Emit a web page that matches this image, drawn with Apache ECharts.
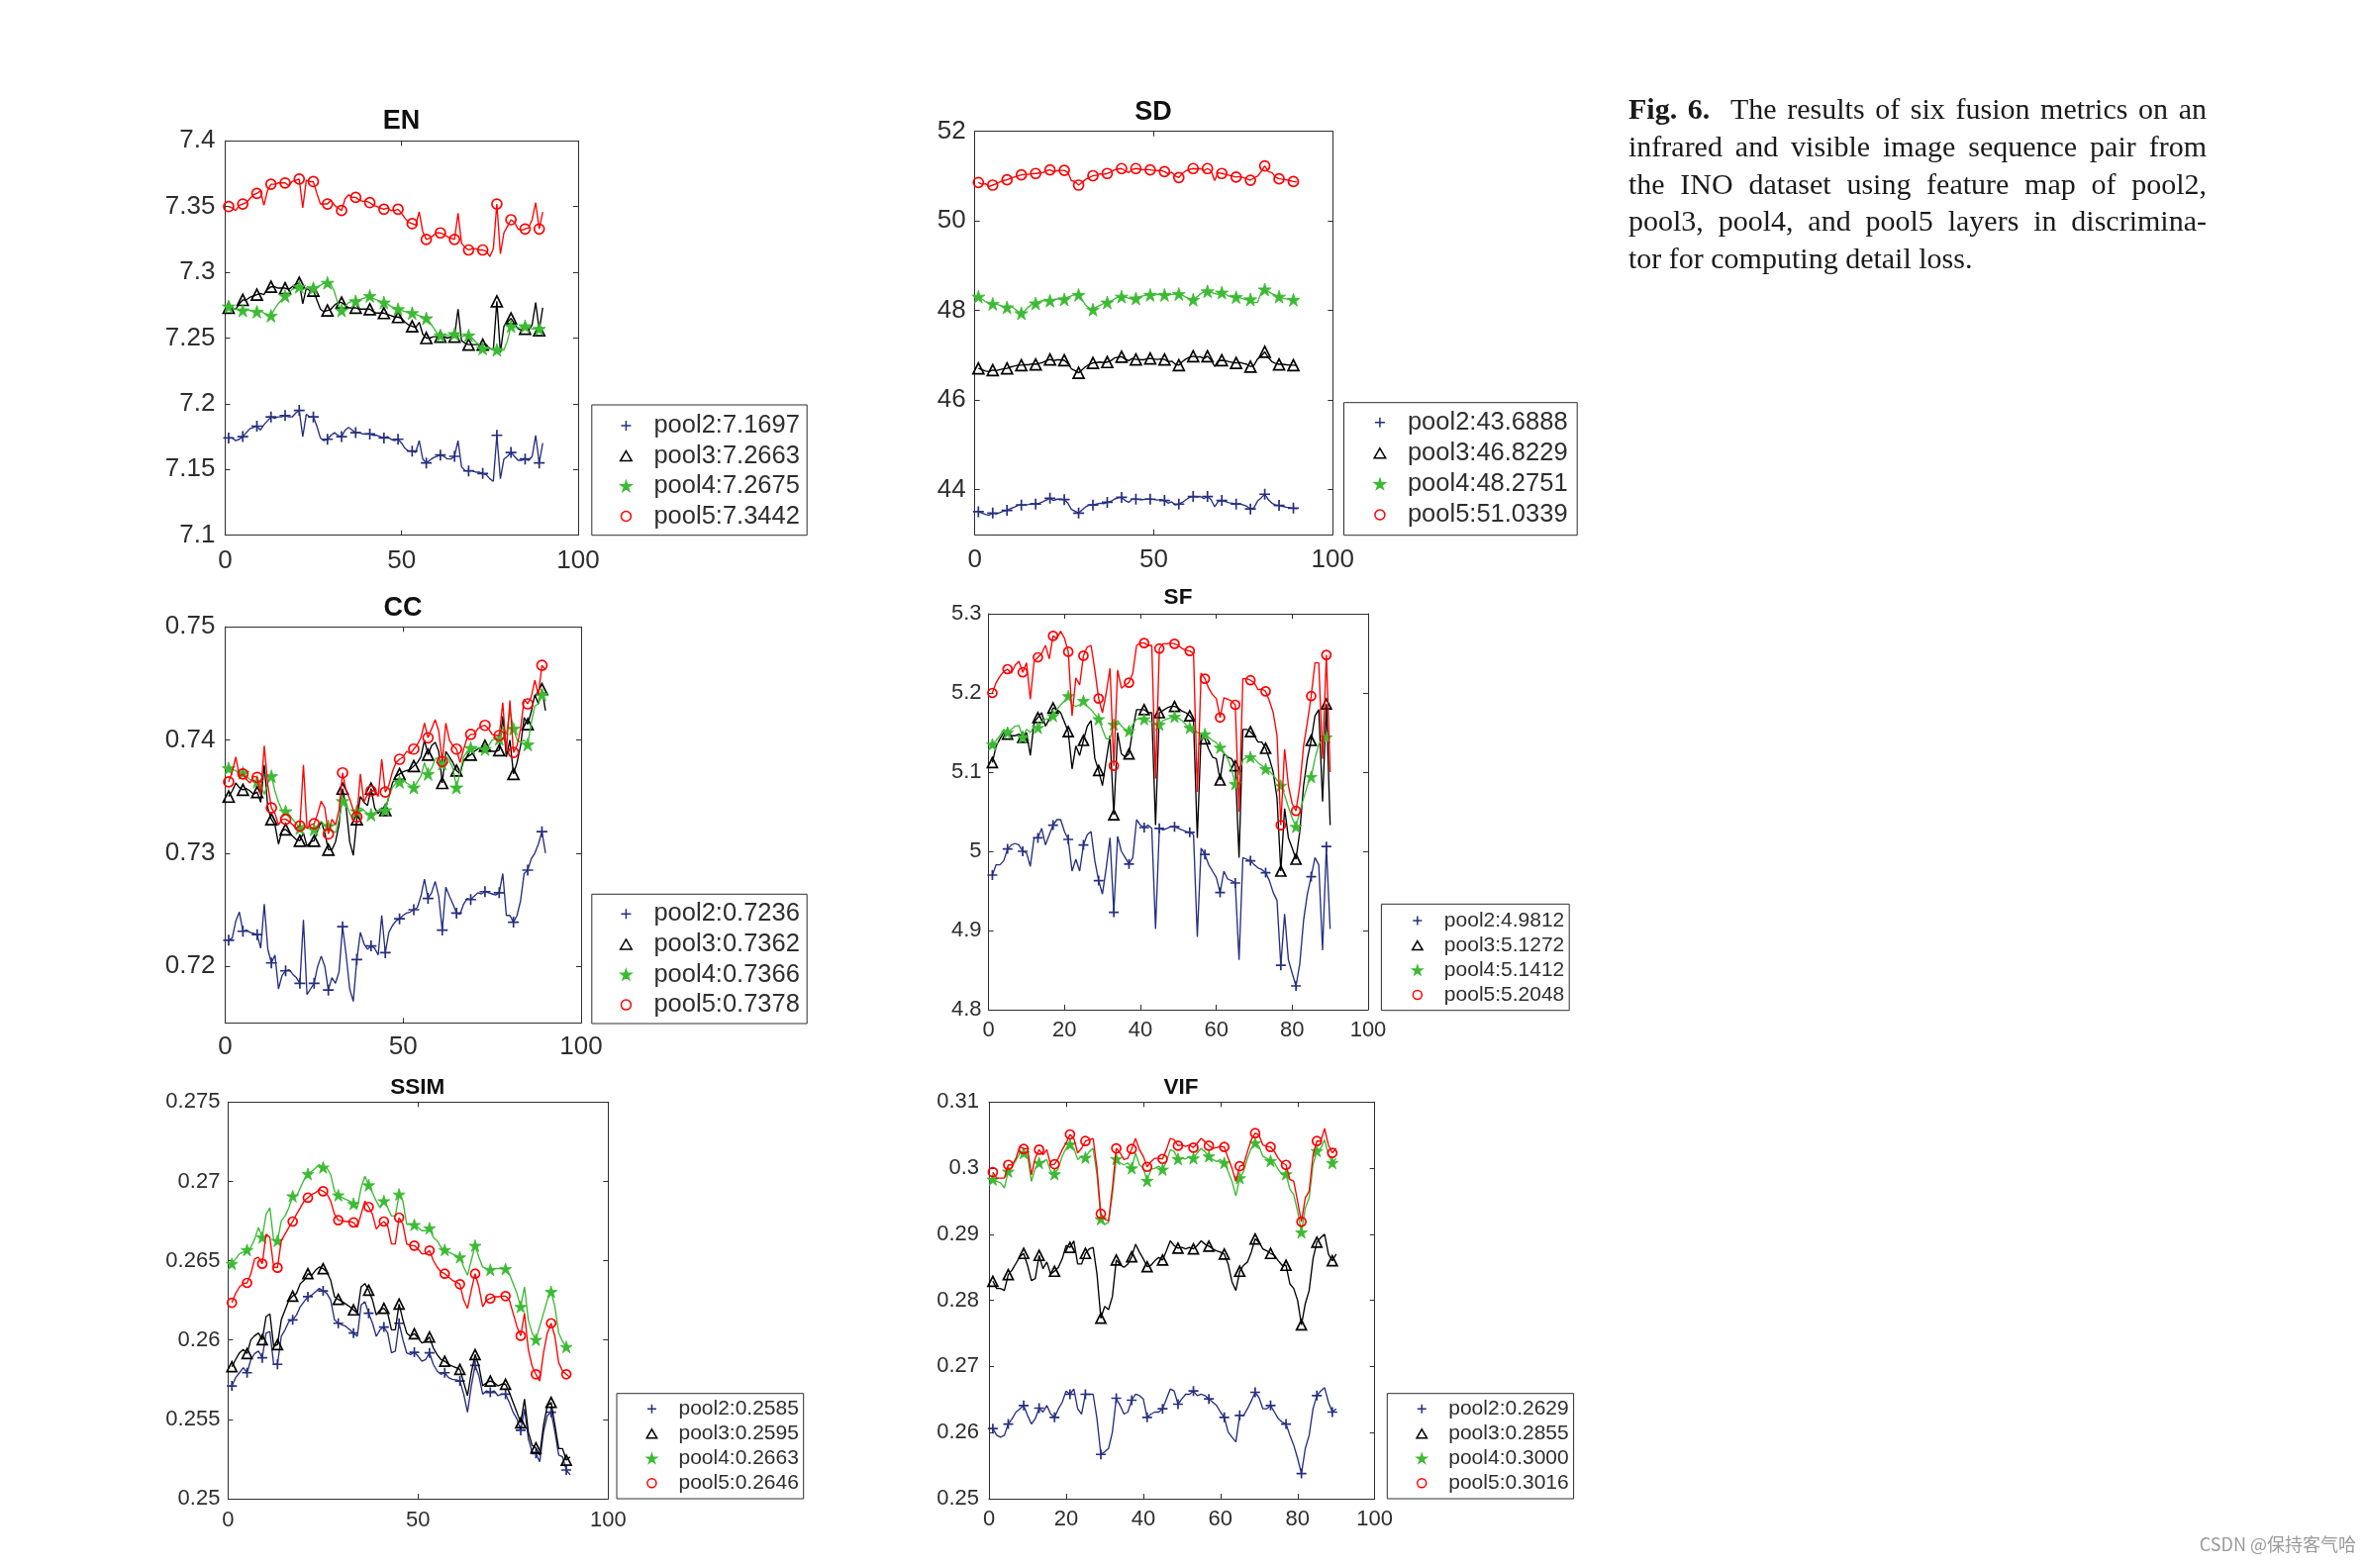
<!DOCTYPE html>
<html><head><meta charset="utf-8">
<script src="https://cdn.jsdelivr.net/npm/echarts@6/dist/echarts.min.js"></script>
<style>
html,body{margin:0;padding:0;background:#fff;}
#chart{position:absolute;left:0;top:0;width:2388px;height:1584px;}
#caption{position:absolute;left:1645px;top:91px;width:584px;font-family:'Liberation Serif','Times New Roman',serif;font-size:30px;line-height:37.8px;color:#1a1a1a;}
#caption .j{text-align:justify;text-align-last:justify;}
</style></head>
<body>
<div id="chart"></div>
<div id="caption">
<div class="j"><b>Fig. 6.</b>&nbsp; The results of six fusion metrics on an</div>
<div class="j">infrared and visible image sequence pair from</div>
<div class="j">the INO dataset using feature map of pool2,</div>
<div class="j">pool3, pool4, and pool5 layers in discrimina-</div>
<div>tor for computing detail loss.</div>
</div>
<script>
// ---------- data ----------
const frames = []; for (let i = 1; i <= 90; i++) frames.push(i);

const EN_legend = ['pool2:7.1697','pool3:7.2663','pool4:7.2675','pool5:7.3442'];
const SD_legend = ['pool2:43.6888','pool3:46.8229','pool4:48.2751','pool5:51.0339'];
const CC_legend = ['pool2:0.7236','pool3:0.7362','pool4:0.7366','pool5:0.7378'];
const SF_legend = ['pool2:4.9812','pool3:5.1272','pool4:5.1412','pool5:5.2048'];
const SSIM_legend = ['pool2:0.2585','pool3:0.2595','pool4:0.2663','pool5:0.2646'];
const VIF_legend = ['pool2:0.2629','pool3:0.2855','pool4:0.3000','pool5:0.3016'];

const X_ticks_50 = [0,50,100];
const X_ticks_20 = [0,20,40,60,80,100];
const EN_yticks = [7.1,7.15,7.2,7.25,7.3,7.35,7.4];
const SD_yticks = [44,46,48,50,52];
const CC_yticks = [0.72,0.73,0.74,0.75];
const SF_yticks = [4.8,4.9,5,5.1,5.2,5.3];
const SSIM_yticks = [0.25,0.255,0.26,0.265,0.27,0.275];
const VIF_yticks = [0.25,0.26,0.27,0.28,0.29,0.3,0.31];

const EN_pool2 = [7.174,7.174,7.172,7.173,7.175,7.178,7.181,7.182,7.183,7.180,
7.184,7.187,7.190,7.189,7.190,7.190,7.191,7.190,7.190,7.193,
7.195,7.175,7.192,7.190,7.190,7.183,7.174,7.172,7.173,7.176,
7.178,7.176,7.175,7.180,7.182,7.180,7.178,7.178,7.177,7.177,
7.177,7.176,7.176,7.175,7.174,7.175,7.173,7.172,7.173,7.170,
7.166,7.164,7.164,7.163,7.172,7.158,7.155,7.157,7.159,7.160,
7.161,7.160,7.158,7.158,7.160,7.172,7.152,7.149,7.149,7.149,
7.148,7.148,7.147,7.146,7.143,7.141,7.176,7.143,7.158,7.160,
7.163,7.160,7.157,7.157,7.158,7.157,7.160,7.176,7.155,7.170];
const EN_pool3 = [7.273,7.273,7.272,7.276,7.279,7.279,7.281,7.282,7.283,7.284,
7.283,7.287,7.289,7.289,7.288,7.288,7.288,7.287,7.289,7.291,
7.292,7.276,7.288,7.286,7.286,7.279,7.272,7.270,7.271,7.272,
7.275,7.277,7.277,7.275,7.273,7.273,7.273,7.272,7.272,7.272,
7.272,7.270,7.269,7.269,7.269,7.268,7.267,7.266,7.266,7.265,
7.262,7.260,7.259,7.258,7.262,7.253,7.250,7.250,7.251,7.251,
7.251,7.251,7.250,7.251,7.251,7.272,7.248,7.246,7.245,7.245,
7.245,7.245,7.245,7.245,7.242,7.241,7.278,7.239,7.259,7.262,
7.265,7.261,7.257,7.256,7.257,7.256,7.260,7.277,7.256,7.273];
const EN_pool4 = [7.274,7.273,7.272,7.271,7.271,7.272,7.271,7.270,7.270,7.271,
7.269,7.268,7.267,7.272,7.276,7.279,7.282,7.284,7.287,7.288,
7.289,7.287,7.288,7.288,7.288,7.289,7.290,7.292,7.292,7.291,
7.285,7.276,7.271,7.274,7.277,7.278,7.278,7.279,7.280,7.281,
7.282,7.280,7.279,7.278,7.277,7.276,7.274,7.273,7.272,7.271,
7.270,7.270,7.269,7.268,7.267,7.266,7.265,7.262,7.258,7.254,
7.252,7.252,7.252,7.253,7.253,7.252,7.251,7.252,7.252,7.250,
7.247,7.245,7.242,7.242,7.242,7.241,7.241,7.240,7.241,7.248,
7.259,7.258,7.258,7.258,7.259,7.258,7.257,7.257,7.257,7.256];
const EN_pool5 = [7.350,7.349,7.347,7.351,7.352,7.353,7.356,7.359,7.360,7.362,
7.351,7.362,7.367,7.367,7.368,7.368,7.368,7.366,7.369,7.370,
7.371,7.349,7.370,7.369,7.369,7.360,7.352,7.352,7.352,7.355,
7.351,7.349,7.347,7.356,7.359,7.357,7.357,7.355,7.354,7.354,
7.353,7.351,7.350,7.349,7.348,7.349,7.347,7.347,7.348,7.345,
7.341,7.338,7.337,7.336,7.346,7.331,7.325,7.326,7.328,7.330,
7.330,7.329,7.327,7.326,7.325,7.345,7.322,7.319,7.317,7.318,
7.318,7.317,7.317,7.316,7.312,7.318,7.352,7.314,7.330,7.335,
7.340,7.338,7.333,7.332,7.333,7.334,7.340,7.353,7.333,7.346];

const SD_pool2 = [43.51,43.48,43.45,43.43,43.48,43.46,43.49,43.52,43.54,43.58,
43.61,43.65,43.66,43.66,43.67,43.69,43.68,43.70,43.73,43.77,
43.81,43.76,43.79,43.79,43.78,43.70,43.56,43.52,43.48,43.55,
43.62,43.66,43.66,43.68,43.70,43.69,43.72,43.74,43.79,43.82,
43.83,43.76,43.72,43.79,43.79,43.78,43.78,43.79,43.79,43.78,
43.77,43.78,43.76,43.70,43.73,43.66,43.68,43.72,43.78,43.83,
43.85,43.84,43.85,43.80,43.85,43.78,43.62,43.74,43.76,43.74,
43.71,43.70,43.68,43.69,43.66,43.63,43.57,43.60,43.75,43.82,
43.90,43.78,43.70,43.66,43.65,43.63,43.61,43.60,43.59,43.58];
const SD_pool3 = [46.71,46.68,46.65,46.64,46.67,46.66,46.68,46.70,46.71,46.74,
46.76,46.78,46.78,46.79,46.79,46.81,46.80,46.82,46.84,46.88,
46.91,46.88,46.90,46.90,46.89,46.82,46.70,46.66,46.61,46.68,
46.75,46.80,46.83,46.84,46.85,46.84,46.85,46.88,46.94,46.96,
46.97,46.92,46.88,46.93,46.91,46.91,46.90,46.92,46.93,46.92,
46.91,46.92,46.91,46.86,46.87,46.80,46.78,46.86,46.92,46.96,
46.98,46.96,46.97,46.93,46.98,46.90,46.75,46.88,46.89,46.88,
46.86,46.84,46.83,46.84,46.82,46.80,46.75,46.78,46.92,46.98,
47.08,46.95,46.86,46.82,46.80,46.80,46.79,46.78,46.78,46.77];
const SD_pool4 = [48.31,48.26,48.20,48.17,48.15,48.14,48.12,48.08,48.07,48.10,
48.05,47.98,47.94,48.00,48.08,48.14,48.16,48.20,48.22,48.22,
48.22,48.24,48.26,48.25,48.25,48.30,48.33,48.36,48.35,48.24,
48.12,48.05,48.02,48.08,48.12,48.16,48.18,48.21,48.26,48.30,
48.31,48.30,48.28,48.25,48.27,48.31,48.33,48.35,48.35,48.34,
48.36,48.35,48.35,48.34,48.36,48.37,48.37,48.34,48.30,48.26,
48.24,48.30,48.37,48.42,48.43,48.41,48.38,48.36,48.40,48.37,
48.32,48.30,48.30,48.29,48.26,48.24,48.25,48.18,48.18,48.40,
48.47,48.42,48.38,48.34,48.31,48.28,48.26,48.25,48.24,48.25];
const SD_pool5 = [50.86,50.82,50.83,50.77,50.80,50.83,50.87,50.90,50.92,50.95,
50.98,51.00,51.03,51.04,51.04,51.05,51.06,51.07,51.08,51.12,
51.14,51.10,51.12,51.13,51.13,51.08,50.90,50.88,50.80,50.86,
50.93,50.97,51.01,51.02,51.05,51.04,51.06,51.09,51.14,51.16,
51.17,51.12,51.08,51.15,51.17,51.16,51.14,51.15,51.14,51.13,
51.12,51.13,51.10,51.05,51.09,51.00,50.97,51.06,51.12,51.15,
51.17,51.16,51.17,51.12,51.17,51.12,50.90,51.08,51.06,51.04,
51.02,51.00,50.98,50.99,50.97,50.94,50.91,50.96,51.00,51.10,
51.23,51.10,51.08,50.98,50.94,50.93,50.92,50.90,50.88,50.87];

const CC_pool2 = [0.7223,0.7225,0.7240,0.7248,0.7231,0.7232,0.7230,0.7229,0.7228,0.7216,
0.7255,0.7215,0.7203,0.7210,0.7180,0.7192,0.7196,0.7197,0.7193,0.7190,
0.7185,0.7241,0.7175,0.7180,0.7185,0.7200,0.7209,0.7200,0.7179,0.7190,
0.7185,0.7195,0.7235,0.7210,0.7180,0.7169,0.7206,0.7230,0.7220,0.7215,
0.7218,0.7216,0.7210,0.7245,0.7212,0.7230,0.7236,0.7240,0.7242,0.7245,
0.7247,0.7248,0.7250,0.7252,0.7262,0.7277,0.7260,0.7265,0.7275,0.7262,
0.7232,0.7270,0.7262,0.7255,0.7247,0.7246,0.7255,0.7260,0.7259,0.7262,
0.7265,0.7264,0.7266,0.7265,0.7264,0.7263,0.7265,0.7282,0.7245,0.7245,
0.7239,0.7245,0.7258,0.7282,0.7285,0.7295,0.7300,0.7308,0.7319,0.7300];
const CC_pool3 = [0.7350,0.7355,0.7362,0.7358,0.7356,0.7357,0.7355,0.7352,0.7354,0.7345,
0.7378,0.7340,0.7330,0.7325,0.7308,0.7320,0.7321,0.7318,0.7315,0.7312,
0.7311,0.7318,0.7306,0.7310,0.7311,0.7320,0.7328,0.7318,0.7303,0.7303,
0.7310,0.7325,0.7357,0.7340,0.7310,0.7298,0.7330,0.7350,0.7345,0.7342,
0.7357,0.7340,0.7335,0.7340,0.7338,0.7350,0.7362,0.7368,0.7370,0.7372,
0.7373,0.7374,0.7377,0.7380,0.7385,0.7400,0.7387,0.7395,0.7398,0.7390,
0.7362,0.7390,0.7385,0.7380,0.7373,0.7370,0.7382,0.7385,0.7387,0.7390,
0.7392,0.7393,0.7395,0.7392,0.7390,0.7390,0.7391,0.7421,0.7385,0.7400,
0.7370,0.7380,0.7395,0.7420,0.7414,0.7425,0.7440,0.7432,0.7445,0.7426];
const CC_pool4 = [0.7375,0.7374,0.7373,0.7370,0.7371,0.7368,0.7365,0.7364,0.7363,0.7360,
0.7352,0.7362,0.7368,0.7355,0.7345,0.7338,0.7337,0.7334,0.7330,0.7326,
0.7322,0.7325,0.7322,0.7322,0.7321,0.7325,0.7328,0.7325,0.7324,0.7320,
0.7318,0.7330,0.7346,0.7345,0.7335,0.7330,0.7337,0.7340,0.7338,0.7335,
0.7334,0.7336,0.7338,0.7337,0.7338,0.7350,0.7358,0.7362,0.7363,0.7365,
0.7362,0.7360,0.7358,0.7363,0.7368,0.7380,0.7370,0.7375,0.7383,0.7385,
0.7379,0.7386,0.7382,0.7375,0.7358,0.7372,0.7385,0.7390,0.7393,0.7392,
0.7393,0.7392,0.7392,0.7395,0.7400,0.7401,0.7401,0.7412,0.7405,0.7426,
0.7410,0.7400,0.7398,0.7400,0.7396,0.7415,0.7430,0.7432,0.7440,0.7443];
const CC_pool5 = [0.7363,0.7372,0.7385,0.7368,0.7370,0.7365,0.7362,0.7368,0.7367,0.7352,
0.7395,0.7360,0.7340,0.7335,0.7325,0.7330,0.7330,0.7328,0.7325,0.7322,
0.7324,0.7378,0.7322,0.7325,0.7326,0.7335,0.7346,0.7340,0.7317,0.7330,
0.7325,0.7338,0.7371,0.7355,0.7348,0.7338,0.7332,0.7370,0.7345,0.7352,
0.7355,0.7355,0.7350,0.7383,0.7354,0.7360,0.7372,0.7380,0.7383,0.7385,
0.7390,0.7388,0.7392,0.7396,0.7402,0.7415,0.7402,0.7410,0.7418,0.7408,
0.7381,0.7415,0.7400,0.7395,0.7392,0.7380,0.7392,0.7402,0.7405,0.7405,
0.7410,0.7412,0.7413,0.7410,0.7405,0.7404,0.7404,0.7433,0.7390,0.7435,
0.7389,0.7395,0.7410,0.7436,0.7432,0.7438,0.7453,0.7440,0.7466,0.7462];

const SF_pool2 = [4.970,4.983,4.983,4.988,5.003,5.008,5.010,5.008,5.000,4.998,
4.981,5.017,5.017,5.029,5.008,5.021,5.033,5.040,5.040,5.025,
5.015,4.975,4.990,4.975,5.008,5.021,5.025,4.988,4.963,4.946,
4.979,5.017,4.923,5.019,5.000,4.992,4.984,4.992,5.040,5.033,
5.030,5.033,5.029,4.902,5.029,5.027,5.029,5.031,5.031,5.029,
5.027,5.025,5.024,5.021,4.892,5.004,4.996,4.983,4.975,4.967,
4.948,4.975,4.965,4.963,4.960,4.863,4.992,4.990,4.988,4.983,
4.979,4.977,4.973,4.963,4.948,4.938,4.856,4.921,4.863,4.846,
4.830,4.858,4.913,4.946,4.968,4.992,4.983,4.875,5.006,4.902];
const SF_pool3 = [5.112,5.133,5.142,5.150,5.148,5.146,5.146,5.148,5.144,5.150,
5.121,5.163,5.169,5.175,5.158,5.167,5.181,5.179,5.175,5.163,
5.151,5.104,5.133,5.121,5.140,5.158,5.165,5.117,5.102,5.083,
5.115,5.146,5.046,5.150,5.123,5.119,5.123,5.154,5.179,5.179,
5.179,5.175,5.175,5.033,5.175,5.178,5.181,5.183,5.183,5.181,
5.177,5.175,5.171,5.165,5.017,5.148,5.142,5.129,5.119,5.117,
5.090,5.123,5.119,5.117,5.108,4.992,5.154,5.154,5.151,5.146,
5.138,5.138,5.130,5.117,5.100,5.067,4.975,5.054,5.017,5.004,
4.990,5.025,5.083,5.117,5.140,5.171,5.179,5.063,5.186,5.033];
const SF_pool4 = [5.135,5.140,5.146,5.154,5.150,5.154,5.158,5.159,5.144,5.154,
5.150,5.158,5.156,5.163,5.167,5.167,5.171,5.179,5.185,5.190,
5.196,5.185,5.183,5.185,5.190,5.183,5.179,5.173,5.167,5.154,
5.142,5.142,5.160,5.165,5.158,5.154,5.152,5.160,5.167,5.167,
5.167,5.165,5.163,5.160,5.160,5.165,5.167,5.169,5.170,5.168,
5.165,5.160,5.156,5.154,5.150,5.149,5.148,5.144,5.140,5.137,
5.131,5.125,5.117,5.104,5.085,5.100,5.115,5.119,5.119,5.117,
5.112,5.108,5.104,5.101,5.096,5.090,5.083,5.071,5.056,5.042,
5.031,5.050,5.067,5.083,5.094,5.117,5.135,5.142,5.144,5.142];
const SF_pool5 = [5.200,5.213,5.221,5.227,5.230,5.225,5.235,5.240,5.226,5.238,
5.192,5.240,5.245,5.250,5.260,5.243,5.272,5.269,5.278,5.269,
5.252,5.171,5.219,5.210,5.247,5.258,5.260,5.229,5.193,5.175,
5.200,5.231,5.108,5.229,5.206,5.210,5.213,5.225,5.260,5.263,
5.263,5.260,5.260,5.092,5.256,5.262,5.262,5.263,5.262,5.260,
5.256,5.254,5.253,5.250,5.075,5.225,5.218,5.206,5.198,5.193,
5.169,5.194,5.192,5.190,5.185,5.050,5.218,5.218,5.216,5.213,
5.204,5.205,5.202,5.190,5.175,5.146,5.033,5.129,5.083,5.060,
5.051,5.083,5.133,5.163,5.196,5.238,5.238,5.117,5.248,5.100];

const SSIM_pool2 = [0.25711,0.25763,0.25794,0.25826,0.25794,0.25878,0.25915,0.25930,0.25888,0.26044,
0.26054,0.25847,0.25847,0.26023,0.26065,0.26117,0.26127,0.26158,0.26210,0.26242,
0.26273,0.26283,0.26304,0.26325,0.26310,0.26294,0.26252,0.26127,0.26106,0.26096,
0.26086,0.26065,0.26044,0.26023,0.26221,0.26242,0.26169,0.26106,0.26023,0.26065,
0.26082,0.26044,0.25919,0.25930,0.26106,0.26002,0.25919,0.25909,0.25923,0.25898,
0.25867,0.25878,0.25919,0.25847,0.25805,0.25784,0.25794,0.25763,0.25753,0.25749,
0.25742,0.25659,0.25545,0.25711,0.25840,0.25774,0.25659,0.25680,0.25670,0.25680,
0.25649,0.25659,0.25659,0.25607,0.25545,0.25503,0.25431,0.25566,0.25379,0.25295,
0.25285,0.25233,0.25420,0.25524,0.25545,0.25420,0.25275,0.25264,0.25181,0.25150];
const SSIM_pool3 = [0.25832,0.25878,0.25919,0.25940,0.25915,0.26002,0.26027,0.26044,0.26002,0.26148,
0.26165,0.25961,0.25971,0.26127,0.26190,0.26252,0.26277,0.26294,0.26356,0.26377,
0.26418,0.26408,0.26439,0.26460,0.26450,0.26429,0.26377,0.26273,0.26256,0.26242,
0.26227,0.26210,0.26190,0.26169,0.26335,0.26356,0.26314,0.26252,0.26158,0.26190,
0.26200,0.26169,0.26065,0.26065,0.26227,0.26127,0.26044,0.26023,0.26040,0.26013,
0.25982,0.25992,0.26019,0.25950,0.25909,0.25878,0.25867,0.25847,0.25836,0.25826,
0.25815,0.25732,0.25649,0.25794,0.25909,0.25836,0.25711,0.25732,0.25742,0.25732,
0.25711,0.25722,0.25722,0.25670,0.25607,0.25545,0.25478,0.25628,0.25420,0.25337,
0.25320,0.25275,0.25462,0.25587,0.25607,0.25462,0.25316,0.25316,0.25243,0.25264];
const SSIM_pool4 = [0.26481,0.26512,0.26543,0.26554,0.26568,0.26585,0.26637,0.26710,0.26647,0.26793,
0.26834,0.26626,0.26626,0.26751,0.26782,0.26834,0.26907,0.26907,0.26959,0.27011,
0.27047,0.27063,0.27084,0.27105,0.27088,0.27084,0.27042,0.26938,0.26913,0.26897,
0.26886,0.26876,0.26859,0.26834,0.26959,0.27032,0.26976,0.26928,0.26876,0.26834,
0.26876,0.26834,0.26782,0.26782,0.26918,0.26876,0.26730,0.26730,0.26726,0.26710,
0.26689,0.26689,0.26705,0.26647,0.26626,0.26585,0.26568,0.26554,0.26543,0.26533,
0.26522,0.26460,0.26408,0.26502,0.26595,0.26522,0.26460,0.26450,0.26443,0.26450,
0.26450,0.26450,0.26448,0.26418,0.26356,0.26294,0.26210,0.26335,0.26127,0.26044,
0.26002,0.26086,0.26169,0.26252,0.26304,0.26210,0.26044,0.25992,0.25957,0.25919];
const SSIM_pool5 = [0.26235,0.26294,0.26335,0.26356,0.26360,0.26418,0.26512,0.26522,0.26481,0.26668,
0.26647,0.26460,0.26456,0.26626,0.26668,0.26710,0.26747,0.26793,0.26834,0.26876,
0.26897,0.26918,0.26928,0.26949,0.26938,0.26922,0.26876,0.26793,0.26755,0.26751,
0.26747,0.26747,0.26741,0.26710,0.26793,0.26876,0.26839,0.26793,0.26699,0.26730,
0.26747,0.26720,0.26606,0.26606,0.26772,0.26730,0.26606,0.26595,0.26595,0.26574,
0.26543,0.26543,0.26564,0.26502,0.26460,0.26429,0.26418,0.26398,0.26377,0.26366,
0.26352,0.26252,0.26200,0.26314,0.26418,0.26335,0.26210,0.26252,0.26262,0.26273,
0.26273,0.26277,0.26277,0.26252,0.26169,0.26086,0.26027,0.26169,0.25940,0.25836,
0.25784,0.25742,0.25919,0.26044,0.26106,0.26023,0.25857,0.25805,0.25784,0.25763];

const VIF_pool2 = [0.2606,0.2596,0.2593,0.2596,0.2613,0.2621,0.2631,0.2636,0.2641,0.2626,
0.2613,0.2621,0.2637,0.2631,0.2641,0.2628,0.2623,0.2636,0.2646,0.2663,
0.2658,0.2666,0.2636,0.2628,0.2658,0.2658,0.2658,0.2621,0.2567,0.2571,
0.2576,0.2601,0.2652,0.2641,0.2628,0.2631,0.2649,0.2658,0.2656,0.2651,
0.2623,0.2628,0.2631,0.2631,0.2636,0.2651,0.2666,0.2663,0.2643,0.2651,
0.2658,0.2658,0.2663,0.2656,0.2658,0.2656,0.2651,0.2646,0.2641,0.2631,
0.2623,0.2601,0.2593,0.2586,0.2626,0.2626,0.2636,0.2648,0.2661,0.2653,
0.2636,0.2636,0.2641,0.2631,0.2621,0.2616,0.2613,0.2596,0.2581,0.2561,
0.2538,0.2576,0.2596,0.2636,0.2656,0.2663,0.2668,0.2646,0.2631,0.2636];
const VIF_pool3 = [0.2829,0.2818,0.2818,0.2815,0.2839,0.2846,0.2856,0.2866,0.2871,0.2853,
0.2830,0.2833,0.2868,0.2848,0.2858,0.2840,0.2844,0.2850,0.2863,0.2883,
0.2880,0.2890,0.2855,0.2855,0.2871,0.2878,0.2880,0.2840,0.2773,0.2791,
0.2786,0.2806,0.2861,0.2854,0.2850,0.2855,0.2866,0.2885,0.2873,0.2863,
0.2851,0.2853,0.2860,0.2865,0.2861,0.2875,0.2890,0.2883,0.2879,0.2880,
0.2878,0.2880,0.2878,0.2883,0.2890,0.2885,0.2882,0.2878,0.2875,0.2873,
0.2870,0.2855,0.2828,0.2815,0.2844,0.2853,0.2858,0.2873,0.2893,0.2888,
0.2878,0.2875,0.2871,0.2868,0.2860,0.2853,0.2853,0.2825,0.2818,0.2800,
0.2763,0.2795,0.2815,0.2863,0.2888,0.2895,0.2900,0.2870,0.2860,0.2870];
const VIF_pool4 = [0.2983,0.2980,0.2978,0.2970,0.2995,0.3002,0.3012,0.3023,0.3023,0.3019,
0.2980,0.3000,0.3008,0.3010,0.3013,0.2995,0.2991,0.3000,0.3018,0.3030,
0.3036,0.3030,0.3013,0.3018,0.3016,0.3025,0.3030,0.2990,0.2923,0.2915,
0.2918,0.2960,0.3014,0.3008,0.3005,0.3008,0.3000,0.3023,0.3005,0.3000,
0.2981,0.2998,0.3000,0.3003,0.2998,0.3010,0.3028,0.3025,0.3014,0.3015,
0.3014,0.3018,0.3015,0.3023,0.3030,0.3025,0.3018,0.3013,0.3010,0.3013,
0.3008,0.2995,0.2980,0.2958,0.2985,0.2995,0.3015,0.3030,0.3038,0.3033,
0.3018,0.3015,0.3011,0.3008,0.2998,0.2990,0.2991,0.2968,0.2960,0.2935,
0.2903,0.2940,0.2955,0.3005,0.3026,0.3030,0.3043,0.3020,0.3008,0.3015];
const VIF_pool5 = [0.2994,0.2985,0.2985,0.2985,0.3005,0.3005,0.3015,0.3033,0.3029,0.3030,
0.2990,0.3015,0.3028,0.3020,0.3028,0.3005,0.3006,0.3015,0.3028,0.3038,
0.3051,0.3045,0.3023,0.3030,0.3041,0.3043,0.3045,0.3000,0.2931,0.2923,
0.2920,0.2970,0.3030,0.3023,0.3013,0.3015,0.3029,0.3045,0.3028,0.3018,
0.3002,0.3010,0.3015,0.3015,0.3014,0.3028,0.3045,0.3043,0.3034,0.3035,
0.3033,0.3035,0.3031,0.3038,0.3045,0.3040,0.3034,0.3030,0.3031,0.3033,
0.3032,0.3015,0.3000,0.2980,0.3003,0.3005,0.3025,0.3043,0.3053,0.3050,
0.3035,0.3033,0.3032,0.3025,0.3015,0.3008,0.3005,0.2983,0.2980,0.2950,
0.2919,0.2955,0.2965,0.3020,0.3041,0.3041,0.3060,0.3035,0.3023,0.3030];

// ---------- styles / layout ----------
const FONT = "'Liberation Sans', Arial, Helvetica, sans-serif";
const AX = '#2e2e2e';
const COLORS = ['#262f80', '#000000', '#3cba34', '#ff0000'];
const SYMBOLS = [
  'path://M5,0L5,10M0,5L10,5',
  'path://M5,0L10,8.66L0,8.66Z',
  'path://M50,0L61.2,34.5L97.6,34.5L68.2,55.9L79.4,90.5L50,69.1L20.6,90.5L31.8,55.9L2.4,34.5L38.8,34.5Z',
  'circle'
];
const FILLS = ['transparent', 'transparent', '#3cba34', 'transparent'];
const SIZE_ADD = [1, 1, 3, 0];

const panels = [
  {title:'EN', series:[EN_pool2,EN_pool3,EN_pool4,EN_pool5], names:EN_legend, yMin:7.1, yMax:7.4, yTicks:EN_yticks, xTicks:X_ticks_50,
   grid:[227.4,142.3,356.5,398.4], titleXY:[405.6,122.7], titleSize:27, tick:26, xMargin:13, yMargin:10,
   box:[597.8,409,217.4,131.7], icon:631.7, row0:430, step:30.5, lsize:25.5, lw:46, sym:10},
  {title:'SD', series:[SD_pool2,SD_pool3,SD_pool4,SD_pool5], names:SD_legend, yMin:43, yMax:52, yTicks:SD_yticks, xTicks:X_ticks_50,
   grid:[984.7,132.7,361.6,407.3], titleXY:[1165,113.3], titleSize:27, tick:26, xMargin:13, yMargin:9,
   box:[1357.5,406.7,235.7,134], icon:1393.2, row0:426.7, step:31.1, lsize:25.5, lw:46, sym:10},
  {title:'CC', series:[CC_pool2,CC_pool3,CC_pool4,CC_pool5], names:CC_legend, yMin:0.715, yMax:0.75, yTicks:CC_yticks, xTicks:X_ticks_50,
   grid:[227.4,633.3,359.6,400], titleXY:[407,615], titleSize:27, tick:26, xMargin:12, yMargin:10,
   box:[597.8,903.3,217.4,130.7], icon:631.7, row0:923.3, step:30.6, lsize:25.5, lw:46, sym:10},
  {title:'SF', series:[SF_pool2,SF_pool3,SF_pool4,SF_pool5], names:SF_legend, yMin:4.8, yMax:5.3, yTicks:SF_yticks, xTicks:X_ticks_20,
   grid:[998.6,620,383.4,400], titleXY:[1190,603.3], titleSize:22.5, tick:22, xMargin:10, yMargin:7,
   box:[1395.4,913.3,189.8,107.4], icon:1431.2, row0:930, step:25, lsize:21, lw:44, sym:9},
  {title:'SSIM', series:[SSIM_pool2,SSIM_pool3,SSIM_pool4,SSIM_pool5], names:SSIM_legend, yMin:0.25, yMax:0.275, yTicks:SSIM_yticks, xTicks:X_ticks_50,
   grid:[230.4,1113.3,383.9,400.7], titleXY:[421.7,1098.3], titleSize:22.5, tick:22, xMargin:11, yMargin:8,
   box:[623,1407.7,188.7,106.3], icon:657.8, row0:1423.3, step:25, lsize:21, lw:44, sym:9},
  {title:'VIF', series:[VIF_pool2,VIF_pool3,VIF_pool4,VIF_pool5], names:VIF_legend, yMin:0.25, yMax:0.31, yTicks:VIF_yticks, xTicks:X_ticks_20,
   grid:[999,1113.3,389.7,400.7], titleXY:[1193,1098.3], titleSize:22.5, tick:22, xMargin:10, yMargin:10,
   box:[1401.3,1407.7,188.3,106.3], icon:1435.6, row0:1423.3, step:25, lsize:21, lw:44, sym:9}
];

const fmt = v => String(parseFloat(Number(v).toFixed(4)));

const grids = [], xAxes = [], yAxes = [], series = [], legends = [], graphics = [];

panels.forEach((p, k) => {
  grids.push({left:p.grid[0], top:p.grid[1], width:p.grid[2], height:p.grid[3], containLabel:false});
  const mkTick = vals => ({show:true, inside:true, length:5, customValues:vals, lineStyle:{color:AX, width:1}});
  const mkLine = () => ({show:true, onZero:false, lineStyle:{color:AX, width:1}});
  ['bottom','top'].forEach(pos => {
    xAxes.push({gridIndex:k, type:'value', position:pos, min:0, max:100,
      axisLine:mkLine(), axisTick:mkTick(p.xTicks), splitLine:{show:false},
      axisLabel: pos === 'bottom'
        ? {show:true, customValues:p.xTicks, margin:p.xMargin, fontSize:p.tick, color:AX, fontFamily:FONT, formatter:fmt}
        : {show:false}});
  });
  ['left','right'].forEach(pos => {
    yAxes.push({gridIndex:k, type:'value', position:pos, min:p.yMin, max:p.yMax,
      axisLine:mkLine(), axisTick:mkTick(p.yTicks), splitLine:{show:false},
      axisLabel: pos === 'left'
        ? {show:true, customValues:p.yTicks, margin:p.yMargin, fontSize:p.tick, color:AX, fontFamily:FONT, formatter:fmt}
        : {show:false}});
  });
  p.series.forEach((arr, j) => {
    const pts = arr.map((v, i) => [frames[i], v]);
    series.push({type:'line', name:p.title + ' line ' + j, xAxisIndex:2*k, yAxisIndex:2*k, data:pts,
      symbol:'none', showSymbol:false, lineStyle:{color:COLORS[j], width:1.35}, itemStyle:{color:COLORS[j]},
      silent:true, animation:false, emphasis:{disabled:true}, z:2 + 2*j});
    series.push({type:'scatter', name:p.names[j], xAxisIndex:2*k, yAxisIndex:2*k,
      data:pts.filter((_, i) => i % 4 === 0),
      symbol:SYMBOLS[j], symbolSize:p.sym + SIZE_ADD[j],
      itemStyle:{color:FILLS[j], borderColor:COLORS[j], borderWidth: j === 2 ? 0.8 : 1.7, opacity:1},
      silent:true, animation:false, emphasis:{disabled:true}, z:3 + 2*j});
  });
  // legend content is aligned by its bounding box, whose left edge is the icon's left edge
  legends.push({orient:'vertical', left:p.icon - p.sym/2 - 0.8, top:p.row0 - p.step/2, padding:0, itemGap:0,
    itemWidth:p.lw, itemHeight:p.sym, selectedMode:false, symbolKeepAspect:true,
    itemStyle:{borderWidth:1.5},
    textStyle:{fontSize:p.lsize, lineHeight:p.step, color:AX, fontFamily:FONT},
    data:p.names});
  graphics.push({type:'rect', z:1, shape:{x:p.box[0], y:p.box[1], width:p.box[2], height:p.box[3]},
    style:{fill:'#fff', stroke:AX, lineWidth:1}});
  graphics.push({type:'text', z:10, x:p.titleXY[0], y:p.titleXY[1],
    style:{text:p.title, fontSize:p.titleSize, fontWeight:'bold', fontFamily:FONT, fill:'#111', align:'center', verticalAlign:'middle'}});
});

graphics.push({type:'text', z:10, x:2380, y:1560,
  style:{text:'CSDN @保持客气哈', fontSize:18, fontFamily:"'Noto Sans CJK SC','Liberation Sans',sans-serif", fill:'#9a9a9a', align:'right', verticalAlign:'middle'}});

const chart = echarts.init(document.getElementById('chart'), null, {renderer:'canvas', width:2388, height:1584});
chart.setOption({
  backgroundColor:'#ffffff',
  animation:false,
  grid:grids, xAxis:xAxes, yAxis:yAxes, series:series, legend:legends, graphic:graphics
});
</script>
</body></html>
